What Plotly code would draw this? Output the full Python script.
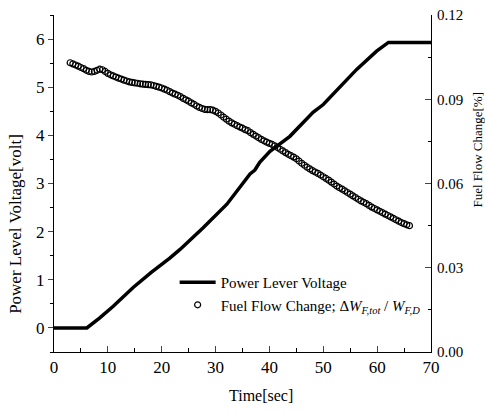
import plotly.graph_objects as go

# Power lever voltage (left axis)
volt_t = [0, 6.1, 8.5, 11.0, 14.7, 18.0, 21.5, 23.4, 27.7, 32.1, 36.4, 37.3, 38.2, 40.1,
          43.8, 46.5, 48.1, 50.0, 53.0, 56.2, 59.9, 62.1, 70.0]
volt_v = [0, 0, 0.21, 0.45, 0.84, 1.15, 1.45, 1.63, 2.08, 2.57, 3.20, 3.28, 3.44, 3.67,
          3.98, 4.30, 4.48, 4.64, 5.00, 5.37, 5.75, 5.93, 5.93]

# Fuel flow change (right axis)
fuel_t = [3.0, 3.5, 4.0, 4.5, 5.0, 5.5, 6.0, 6.5, 7.0, 7.5, 8.0, 8.5, 9.0, 9.5, 10.0, 10.5,
          11.0, 11.5, 12.0, 12.5, 13.0, 13.5, 14.0, 14.5, 15.0, 15.5, 16.0, 16.5, 17.0, 17.5,
          18.0, 18.5, 19.0, 19.5, 20.0, 20.5, 21.0, 21.5, 22.0, 22.5, 23.0, 23.5, 24.0, 24.5,
          25.0, 25.5, 26.0, 26.5, 27.0, 27.5, 28.0, 28.5, 29.0, 29.5, 30.0, 30.5, 31.0, 31.5,
          32.0, 32.5, 33.0, 33.5, 34.0, 34.5, 35.0, 35.5, 36.0, 36.5, 37.0, 37.5, 38.0, 38.5,
          39.0, 39.5, 40.0, 40.5, 41.0, 41.5, 42.0, 42.5, 43.0, 43.5, 44.0, 44.5, 45.0, 45.5,
          46.0, 46.5, 47.0, 47.5, 48.0, 48.5, 49.0, 49.5, 50.0, 50.5, 51.0, 51.5, 52.0, 52.5,
          53.0, 53.5, 54.0, 54.5, 55.0, 55.5, 56.0, 56.5, 57.0, 57.5, 58.0, 58.5, 59.0, 59.5,
          60.0, 60.5, 61.0, 61.5, 62.0, 62.5, 63.0, 63.5, 64.0, 64.5, 65.0, 65.5, 66.0]
fuel_v = [0.1030, 0.1026, 0.1022, 0.1018, 0.1013, 0.1009, 0.1003, 0.0999, 0.0997, 0.0999,
          0.1003, 0.1007, 0.1005, 0.0999, 0.0992, 0.0987, 0.0983, 0.0979, 0.0975, 0.0972,
          0.0968, 0.0965, 0.0962, 0.0960, 0.0958, 0.0957, 0.0955, 0.0954, 0.0953, 0.0952,
          0.0951, 0.0949, 0.0946, 0.0943, 0.0940, 0.0936, 0.0932, 0.0927, 0.0922, 0.0918,
          0.0914, 0.0909, 0.0903, 0.0898, 0.0893, 0.0887, 0.0882, 0.0876, 0.0871, 0.0867,
          0.0864, 0.0863, 0.0863, 0.0861, 0.0857, 0.0851, 0.0844, 0.0836, 0.0829, 0.0822,
          0.0816, 0.0811, 0.0806, 0.0801, 0.0797, 0.0792, 0.0788, 0.0781, 0.0775, 0.0769,
          0.0763, 0.0757, 0.0752, 0.0747, 0.0743, 0.0739, 0.0734, 0.0728, 0.0722, 0.0716,
          0.0710, 0.0704, 0.0699, 0.0694, 0.0688, 0.0680, 0.0672, 0.0665, 0.0658, 0.0652,
          0.0646, 0.0641, 0.0636, 0.0630, 0.0624, 0.0618, 0.0612, 0.0605, 0.0598, 0.0591,
          0.0585, 0.0580, 0.0574, 0.0568, 0.0562, 0.0556, 0.0550, 0.0544, 0.0538, 0.0533,
          0.0528, 0.0522, 0.0516, 0.0511, 0.0506, 0.0501, 0.0496, 0.0491, 0.0486, 0.0481,
          0.0476, 0.0471, 0.0466, 0.0461, 0.0457, 0.0453, 0.0450]

x_ticks = [0, 10, 20, 30, 40, 50, 60, 70]
left_ticks = [0, 1, 2, 3, 4, 5, 6]
right_ticks = [0.00, 0.03, 0.06, 0.09, 0.12]

FONT = "Liberation Serif, Times New Roman, serif"

fig = go.Figure()
fig.add_trace(go.Scatter(
    x=volt_t, y=volt_v, mode="lines", name="Power Lever Voltage",
    line=dict(color="black", width=3.5), yaxis="y"))
fig.add_trace(go.Scatter(
    x=fuel_t, y=fuel_v, mode="markers",
    name="Fuel Flow Change; Δ<i>W</i><sub><i>F,tot</i></sub> / <i>W</i><sub><i>F,D</i></sub>",
    marker=dict(symbol="circle-open", size=6, color="black", line=dict(width=1.2)),
    yaxis="y2"))

fig.update_layout(
    width=485, height=412,
    margin=dict(l=54, r=54, t=15, b=60),
    paper_bgcolor="white", plot_bgcolor="white",
    font=dict(family=FONT, color="black", size=16),
    showlegend=True,
    legend=dict(x=0.32, y=0.255, xanchor="left", yanchor="top",
                bgcolor="rgba(0,0,0,0)", font=dict(size=15, family=FONT),
                itemwidth=36, tracegroupgap=2),
    xaxis=dict(range=[0, 70], tickvals=x_ticks, ticks="inside", ticklen=6,
               showline=True, linecolor="black", linewidth=1, showgrid=False,
               zeroline=False, tickfont=dict(size=17), automargin=False,
               minor=dict(dtick=5, ticks="inside", ticklen=4, tickcolor="black")),
    yaxis=dict(range=[-0.5, 6.5], tickvals=left_ticks, ticks="outside", ticklen=5,
               showline=True, linecolor="black", linewidth=1, showgrid=False,
               zeroline=False, tickfont=dict(size=17), automargin=False,
               minor=dict(dtick=0.5, ticks="outside", ticklen=3, tickcolor="black")),
    yaxis2=dict(range=[0, 0.12], tickvals=right_ticks, tickformat=".2f",
                overlaying="y", side="right", ticks="inside", ticklen=6,
                showline=True, linecolor="black", linewidth=1, showgrid=False,
                zeroline=False, tickfont=dict(size=15), ticklabelstandoff=2,
                automargin=False,
                minor=dict(dtick=0.015, ticks="inside", ticklen=3, tickcolor="black")),
    annotations=[
        dict(text="Time[sec]", xref="paper", yref="paper", x=0.55, y=-0.128,
             showarrow=False, font=dict(size=16), xanchor="center", yanchor="middle"),
        dict(text="Power Level Voltage[volt]", xref="paper", yref="paper", x=-0.101, y=0.38,
             showarrow=False, font=dict(size=17), textangle=-90,
             xanchor="center", yanchor="middle"),
        dict(text="Fuel Flow Change[%]", xref="paper", yref="paper", x=1.124, y=0.6,
             showarrow=False, font=dict(size=13), textangle=-90,
             xanchor="center", yanchor="middle"),
    ],
)

fig.write_html("out.html")
